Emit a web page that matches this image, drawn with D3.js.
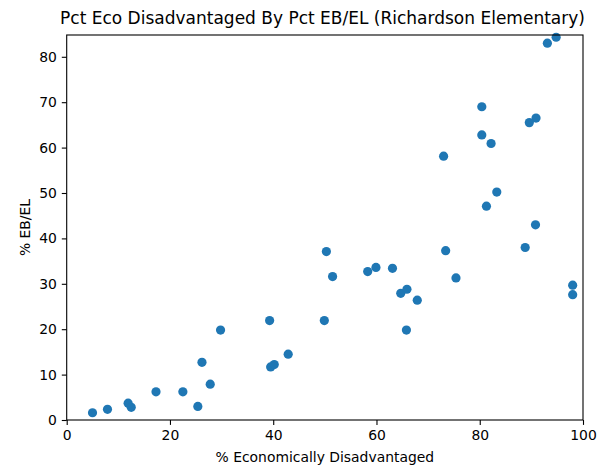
<!DOCTYPE html>
<html>
<head>
<meta charset="utf-8">
<script src="https://cdn.jsdelivr.net/npm/d3@7"></script>
<style>
  html, body { margin: 0; padding: 0; background: #fff; }
  svg { display: block; }
  text { font-family: "DejaVu Sans", sans-serif; fill: #000; }
</style>
</head>
<body>
<svg id="chart" width="607" height="468"></svg>
<script>
const pctEcoDisadvantaged = [5.0, 7.9, 11.9, 12.5, 17.3, 22.5, 25.4, 26.2, 27.8, 29.8,
  39.3, 39.5, 40.2, 42.9, 49.9, 50.3, 51.5, 58.3, 59.9, 63.1,
  64.7, 65.9, 65.8, 67.9, 73.4, 75.4, 88.8, 90.8, 98.0, 98.0,
  94.8, 93.1, 80.4, 90.9, 89.6, 80.4, 82.2, 73.0, 83.3, 81.3];
const pctEBEL = [1.6, 2.35, 3.7, 2.8, 6.2, 6.2, 3.0, 12.7, 7.9, 19.8,
  21.9, 11.7, 12.2, 14.5, 21.9, 37.1, 31.6, 32.7, 33.6, 33.4,
  27.9, 28.8, 19.8, 26.4, 37.3, 31.3, 38.0, 43.0, 29.7, 27.6,
  84.3, 83.0, 69.0, 66.5, 65.5, 62.8, 60.9, 58.1, 50.2, 47.1];
const xTicks = [0, 20, 40, 60, 80, 100];
const yTicks = [0, 10, 20, 30, 40, 50, 60, 70, 80];
const title = "Pct Eco Disadvantaged By Pct EB/EL (Richardson Elementary)";
const xLabel = "% Economically Disadvantaged";
const yLabel = "% EB/EL";

(function () {
const svg = d3.select("#chart");
const mLeft = 66.7, mRight = 583, mTop = 35, mBottom = 420;

const x = d3.scaleLinear().domain([0, 100]).range([mLeft, mRight]);
const y = d3.scaleLinear().domain([0, 84.8]).range([mBottom, mTop]);

const pts = svg.append("g");
pts.selectAll("circle")
  .data(pctEcoDisadvantaged.map((v, i) => [v, pctEBEL[i]]))
  .join("circle")
  .attr("cx", d => x(d[0]))
  .attr("cy", d => y(d[1]))
  .attr("r", 4.6)
  .attr("fill", "#1f77b4");

const xAxis = svg.append("g")
  .attr("transform", `translate(0,${mBottom})`)
  .call(d3.axisBottom(x).tickValues(xTicks).tickSize(4.9).tickPadding(4.9).tickSizeOuter(0));
const yAxis = svg.append("g")
  .attr("transform", `translate(${mLeft},0)`)
  .call(d3.axisLeft(y).tickValues(yTicks).tickSize(4.9).tickPadding(4.9).tickSizeOuter(0));

[xAxis, yAxis].forEach(a => {
  a.selectAll("text").style("font-family", "DejaVu Sans").style("font-size", "13.9px").attr("fill", "#000");
  a.selectAll("line").attr("stroke", "#000").attr("stroke-width", 1.1);
  a.select(".domain").remove();
});

svg.append("rect")
  .attr("x", mLeft).attr("y", mTop)
  .attr("width", mRight - mLeft).attr("height", mBottom - mTop)
  .attr("fill", "none").attr("stroke", "#000").attr("stroke-width", 1.1);

svg.append("text")
  .attr("x", 322.5).attr("y", 24)
  .attr("text-anchor", "middle")
  .style("font-size", "17px")
  .text(title);

svg.append("text")
  .attr("x", (mLeft + mRight) / 2).attr("y", 462)
  .attr("text-anchor", "middle")
  .style("font-size", "13.9px")
  .text(xLabel);

svg.append("text")
  .attr("transform", `translate(30,${(mTop + mBottom) / 2}) rotate(-90)`)
  .attr("text-anchor", "middle")
  .style("font-size", "13.9px")
  .text(yLabel);
})();
</script>
</body>
</html>
